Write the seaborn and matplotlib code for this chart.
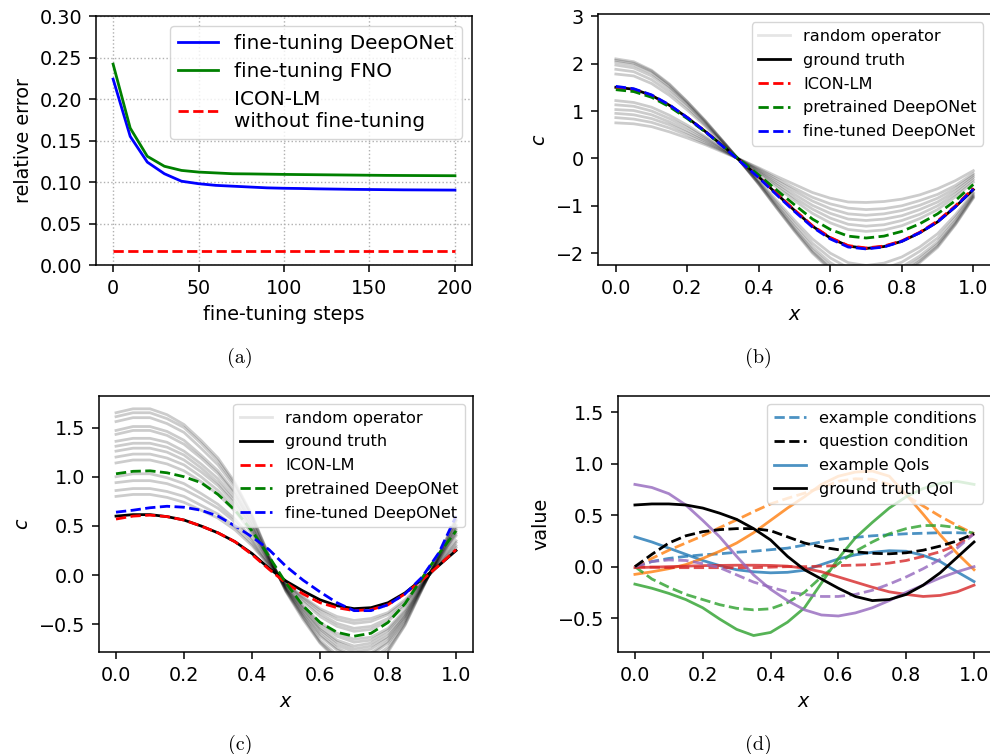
import matplotlib
matplotlib.use("Agg")
import matplotlib.pyplot as plt
from matplotlib.lines import Line2D
import pandas as pd
import seaborn as sns

# ---------------- data ----------------
# (a) relative error vs fine-tuning steps
steps = [0, 10, 20, 30, 40, 50, 60, 70, 80, 90, 100, 110, 120, 130, 140, 150, 160, 170, 180, 190, 200]
err_deeponet = [0.224, 0.155, 0.124, 0.110, 0.101, 0.098, 0.096, 0.095, 0.094, 0.093, 0.0925,
                0.0922, 0.0918, 0.0915, 0.0912, 0.091, 0.0908, 0.0906, 0.0905, 0.0904, 0.0903]
err_fno = [0.242, 0.165, 0.131, 0.119, 0.114, 0.112, 0.111, 0.110, 0.1098, 0.1095, 0.1092,
           0.109, 0.1088, 0.1086, 0.1084, 0.1082, 0.108, 0.1079, 0.1078, 0.1077, 0.1076]
err_icon = [0.0169, 0.0169, 0.0169, 0.0169, 0.0169, 0.0169, 0.0169, 0.0169, 0.0169, 0.0169, 0.0169,
            0.0169, 0.0169, 0.0169, 0.0169, 0.0169, 0.0169, 0.0169, 0.0169, 0.0169, 0.0169]

xs = [0.0, 0.05, 0.1, 0.15, 0.2, 0.25, 0.3, 0.35, 0.4, 0.45, 0.5,
      0.55, 0.6, 0.65, 0.7, 0.75, 0.8, 0.85, 0.9, 0.95, 1.0]

# (b)
truth_b = [1.50, 1.46, 1.33, 1.12, 0.86, 0.57, 0.26, -0.06, -0.39, -0.75, -1.10,
           -1.43, -1.68, -1.85, -1.90, -1.86, -1.75, -1.57, -1.34, -1.02, -0.66]
icon_b = [1.49, 1.45, 1.32, 1.11, 0.86, 0.57, 0.26, -0.06, -0.39, -0.74, -1.09,
          -1.42, -1.67, -1.84, -1.89, -1.85, -1.74, -1.56, -1.32, -1.00, -0.63]
pre_b = [1.45, 1.41, 1.29, 1.09, 0.84, 0.56, 0.26, -0.05, -0.35, -0.67, -0.98,
         -1.28, -1.50, -1.64, -1.68, -1.64, -1.54, -1.38, -1.17, -0.89, -0.55]
fine_b = [1.52, 1.47, 1.34, 1.13, 0.86, 0.57, 0.25, -0.08, -0.41, -0.77, -1.12,
          -1.45, -1.70, -1.87, -1.91, -1.87, -1.75, -1.57, -1.34, -1.02, -0.65]
grey_b = [
    [2.10, 2.04, 1.86, 1.57, 1.20, 0.80, 0.36, -0.08, -0.55, -1.05, -1.54, -2.00, -2.35, -2.59, -2.66, -2.60, -2.45, -2.20, -1.88, -1.40, -0.84],
    [2.07, 2.01, 1.84, 1.55, 1.19, 0.79, 0.36, -0.08, -0.54, -1.04, -1.52, -1.97, -2.32, -2.55, -2.62, -2.57, -2.42, -2.17, -1.85, -1.38, -0.82],
    [2.03, 1.97, 1.80, 1.51, 1.16, 0.77, 0.35, -0.08, -0.53, -1.01, -1.49, -1.93, -2.27, -2.50, -2.57, -2.51, -2.36, -2.12, -1.81, -1.35, -0.80],
    [1.97, 1.91, 1.74, 1.47, 1.13, 0.75, 0.34, -0.08, -0.51, -0.98, -1.44, -1.87, -2.20, -2.42, -2.49, -2.44, -2.29, -2.06, -1.76, -1.31, -0.78],
    [1.88, 1.83, 1.66, 1.40, 1.08, 0.71, 0.33, -0.08, -0.49, -0.94, -1.38, -1.79, -2.10, -2.31, -2.38, -2.33, -2.19, -1.96, -1.68, -1.25, -0.75],
    [1.78, 1.74, 1.58, 1.33, 1.02, 0.68, 0.31, -0.07, -0.46, -0.89, -1.31, -1.70, -2.00, -2.20, -2.26, -2.21, -2.08, -1.87, -1.59, -1.19, -0.72],
    [1.22, 1.18, 1.08, 0.91, 0.70, 0.46, 0.21, -0.05, -0.32, -0.61, -0.89, -1.16, -1.36, -1.50, -1.54, -1.51, -1.42, -1.27, -1.08, -0.81, -0.50],
    [1.13, 1.10, 1.00, 0.84, 0.65, 0.43, 0.20, -0.05, -0.29, -0.56, -0.83, -1.07, -1.26, -1.39, -1.43, -1.40, -1.31, -1.18, -1.00, -0.75, -0.45],
    [1.03, 1.01, 0.92, 0.77, 0.59, 0.39, 0.18, -0.04, -0.27, -0.52, -0.76, -0.99, -1.16, -1.28, -1.31, -1.28, -1.21, -1.08, -0.92, -0.69, -0.40],
    [0.95, 0.92, 0.84, 0.71, 0.54, 0.36, 0.16, -0.04, -0.25, -0.47, -0.69, -0.90, -1.06, -1.17, -1.20, -1.17, -1.10, -0.99, -0.84, -0.63, -0.36],
    [0.86, 0.83, 0.76, 0.64, 0.49, 0.32, 0.15, -0.03, -0.22, -0.43, -0.63, -0.82, -0.96, -1.05, -1.08, -1.06, -1.00, -0.89, -0.76, -0.57, -0.32],
    [0.75, 0.73, 0.67, 0.56, 0.43, 0.29, 0.13, -0.03, -0.20, -0.38, -0.55, -0.72, -0.84, -0.92, -0.93, -0.91, -0.86, -0.77, -0.64, -0.47, -0.26],
]

# (c)
truth_c = [0.60, 0.615, 0.615, 0.595, 0.56, 0.50, 0.43, 0.34, 0.22, 0.07, -0.06,
           -0.16, -0.25, -0.31, -0.34, -0.33, -0.28, -0.18, -0.04, 0.10, 0.25]
icon_c = [0.57, 0.60, 0.61, 0.595, 0.56, 0.50, 0.43, 0.34, 0.21, 0.06, -0.08,
          -0.19, -0.28, -0.33, -0.36, -0.35, -0.30, -0.19, -0.05, 0.10, 0.26]
pre_c = [1.03, 1.055, 1.06, 1.04, 1.00, 0.94, 0.82, 0.66, 0.45, 0.19, -0.08,
         -0.31, -0.48, -0.58, -0.62, -0.59, -0.48, -0.29, -0.03, 0.22, 0.45]
fine_c = [0.64, 0.66, 0.685, 0.70, 0.69, 0.66, 0.60, 0.50, 0.39, 0.26, 0.09,
          -0.05, -0.17, -0.28, -0.36, -0.36, -0.30, -0.19, -0.02, 0.23, 0.60]
grey_c = [
    [1.65, 1.69, 1.69, 1.63, 1.53, 1.37, 1.19, 0.94, 0.61, 0.20, -0.17, -0.45, -0.69, -0.86, -0.94, -0.91, -0.78, -0.51, -0.15, 0.21, 0.58],
    [1.61, 1.65, 1.65, 1.59, 1.50, 1.34, 1.16, 0.92, 0.60, 0.19, -0.16, -0.43, -0.68, -0.84, -0.92, -0.89, -0.76, -0.50, -0.14, 0.21, 0.56],
    [1.56, 1.60, 1.60, 1.54, 1.45, 1.29, 1.12, 0.89, 0.58, 0.19, -0.16, -0.42, -0.66, -0.81, -0.89, -0.86, -0.73, -0.48, -0.14, 0.20, 0.55],
    [1.47, 1.51, 1.51, 1.46, 1.37, 1.22, 1.06, 0.84, 0.54, 0.18, -0.15, -0.40, -0.62, -0.76, -0.84, -0.81, -0.69, -0.46, -0.13, 0.19, 0.51],
    [1.43, 1.47, 1.47, 1.42, 1.33, 1.19, 1.03, 0.82, 0.53, 0.17, -0.14, -0.39, -0.60, -0.74, -0.82, -0.79, -0.67, -0.44, -0.13, 0.19, 0.50],
    [1.36, 1.39, 1.39, 1.35, 1.26, 1.13, 0.98, 0.78, 0.50, 0.16, -0.14, -0.37, -0.57, -0.71, -0.78, -0.75, -0.64, -0.42, -0.12, 0.18, 0.48],
    [1.31, 1.34, 1.34, 1.30, 1.22, 1.09, 0.94, 0.75, 0.48, 0.16, -0.13, -0.35, -0.55, -0.68, -0.75, -0.72, -0.62, -0.41, -0.12, 0.17, 0.46],
    [1.26, 1.29, 1.29, 1.25, 1.17, 1.05, 0.91, 0.72, 0.47, 0.15, -0.13, -0.34, -0.53, -0.66, -0.72, -0.69, -0.59, -0.39, -0.11, 0.16, 0.44],
    [1.20, 1.23, 1.23, 1.19, 1.12, 1.00, 0.86, 0.68, 0.44, 0.14, -0.12, -0.32, -0.50, -0.62, -0.68, -0.66, -0.56, -0.37, -0.11, 0.16, 0.42],
    [1.14, 1.17, 1.17, 1.13, 1.06, 0.95, 0.82, 0.65, 0.42, 0.14, -0.11, -0.31, -0.48, -0.59, -0.65, -0.63, -0.54, -0.35, -0.10, 0.15, 0.40],
    [1.00, 1.03, 1.03, 0.99, 0.93, 0.83, 0.72, 0.57, 0.37, 0.12, -0.10, -0.27, -0.42, -0.52, -0.57, -0.55, -0.47, -0.31, -0.09, 0.13, 0.35],
    [0.94, 0.96, 0.96, 0.93, 0.87, 0.78, 0.68, 0.54, 0.35, 0.11, -0.09, -0.25, -0.39, -0.49, -0.54, -0.52, -0.44, -0.29, -0.08, 0.12, 0.33],
    [0.86, 0.88, 0.88, 0.85, 0.80, 0.71, 0.62, 0.49, 0.32, 0.10, -0.09, -0.23, -0.36, -0.45, -0.49, -0.47, -0.40, -0.27, -0.08, 0.11, 0.30],
    [0.80, 0.82, 0.82, 0.79, 0.74, 0.66, 0.58, 0.46, 0.30, 0.10, -0.08, -0.22, -0.34, -0.42, -0.46, -0.44, -0.38, -0.25, -0.07, 0.10, 0.28],
]

# (d) five example condition / QoI pairs plus the question
ex_colors = ["#1f77b4", "#ff7f0e", "#2ca02c", "#d62728", "#9467bd"]
ex_conditions = [
    [0.0, 0.05, 0.08, 0.10, 0.115, 0.125, 0.14, 0.15, 0.165, 0.18, 0.21, 0.24, 0.265, 0.285, 0.30, 0.31, 0.32, 0.325, 0.33, 0.33, 0.325],
    [0.0, 0.08, 0.16, 0.23, 0.30, 0.38, 0.455, 0.535, 0.61, 0.665, 0.715, 0.77, 0.83, 0.855, 0.85, 0.80, 0.69, 0.59, 0.49, 0.40, 0.32],
    [0.0, -0.12, -0.20, -0.27, -0.32, -0.37, -0.405, -0.42, -0.41, -0.35, -0.25, -0.10, 0.03, 0.15, 0.24, 0.32, 0.37, 0.40, 0.40, 0.38, 0.32],
    [0.0, -0.005, -0.01, -0.01, -0.01, -0.01, -0.01, -0.01, -0.005, 0.0, 0.0, 0.005, 0.01, 0.015, 0.02, 0.035, 0.06, 0.10, 0.145, 0.21, 0.32],
    [0.0, 0.05, 0.065, 0.06, 0.03, -0.01, -0.08, -0.15, -0.20, -0.245, -0.27, -0.29, -0.29, -0.27, -0.23, -0.17, -0.10, -0.02, 0.07, 0.18, 0.32],
]
ex_qois = [
    [0.29, 0.24, 0.18, 0.12, 0.06, 0.01, -0.03, -0.05, -0.06, -0.055, -0.035, 0.02, 0.075, 0.115, 0.14, 0.155, 0.15, 0.11, 0.05, -0.05, -0.145],
    [-0.075, -0.05, -0.02, 0.02, 0.08, 0.15, 0.23, 0.33, 0.45, 0.57, 0.68, 0.80, 0.88, 0.92, 0.93, 0.88, 0.70, 0.51, 0.31, 0.13, -0.03],
    [-0.17, -0.21, -0.26, -0.32, -0.40, -0.51, -0.61, -0.67, -0.64, -0.54, -0.40, -0.16, 0.08, 0.28, 0.43, 0.57, 0.68, 0.76, 0.81, 0.83, 0.80],
    [-0.01, -0.005, 0.0, 0.005, 0.01, 0.012, 0.014, 0.014, 0.012, 0.005, -0.015, -0.05, -0.10, -0.15, -0.20, -0.245, -0.27, -0.29, -0.28, -0.245, -0.18],
    [0.80, 0.77, 0.71, 0.60, 0.45, 0.29, 0.10, -0.08, -0.22, -0.33, -0.42, -0.47, -0.48, -0.45, -0.40, -0.33, -0.25, -0.18, -0.11, -0.05, 0.0],
]
question_condition = [0.0, 0.12, 0.23, 0.30, 0.34, 0.36, 0.37, 0.37, 0.35, 0.29, 0.23,
                      0.19, 0.165, 0.145, 0.13, 0.125, 0.135, 0.16, 0.20, 0.25, 0.32]
truth_qoi = [0.60, 0.61, 0.61, 0.60, 0.57, 0.52, 0.46, 0.37, 0.26, 0.10, -0.03,
             -0.12, -0.21, -0.29, -0.33, -0.32, -0.27, -0.18, -0.06, 0.09, 0.24]

# ---------------- style ----------------
plt.rcParams.update({
    "font.family": ["DejaVu Sans"],
    "font.size": 13.8,
    "axes.labelsize": 13.8,
    "xtick.labelsize": 13.8,
    "ytick.labelsize": 13.8,
    "axes.linewidth": 1.1,
    "xtick.major.size": 5.0,
    "ytick.major.size": 5.0,
    "xtick.major.width": 1.1,
    "ytick.major.width": 1.1,
    "xtick.major.pad": 5.0,
    "ytick.major.pad": 5.0,
    "axes.labelpad": 5.0,
    "lines.linewidth": 2.0,
})

LW = 2.0
fig = plt.figure(figsize=(9.9, 7.54), dpi=100)
axA = fig.add_axes([0.0970, 0.6485, 0.3798, 0.3302])
axB = fig.add_axes([0.6040, 0.6485, 0.3972, 0.3325])
axC = fig.add_axes([0.1000, 0.1353, 0.3778, 0.3395])
axD = fig.add_axes([0.6242, 0.1353, 0.3768, 0.3395])


def long_frame(rows):
    recs = []
    for i, row in enumerate(rows):
        for xv, yv in zip(xs, row):
            recs.append({"curve": i, "x": xv, "value": yv})
    return pd.DataFrame(recs)


# ---------------- (a) ----------------
sns.lineplot(x=steps, y=err_deeponet, color="blue", linewidth=LW, ax=axA)
sns.lineplot(x=steps, y=err_fno, color="green", linewidth=LW, ax=axA)
sns.lineplot(x=steps, y=err_icon, color="red", linewidth=LW, linestyle="--", ax=axA)
axA.set_ylim(0, 0.30)
axA.set_yticks([0.0, 0.05, 0.10, 0.15, 0.20, 0.25, 0.30])
axA.set_xticks([0, 50, 100, 150, 200])
axA.grid(True, linestyle=":", color="#b0b0b0", linewidth=1.0)
axA.set_xlabel("fine-tuning steps")
axA.set_ylabel("relative error")
hA = [Line2D([], [], color="blue", lw=LW), Line2D([], [], color="green", lw=LW),
      Line2D([], [], color="red", lw=LW, ls="--")]
axA.legend(hA, ["fine-tuning DeepONet", "fine-tuning FNO", "ICON-LM\nwithout fine-tuning"],
           loc="upper right", fontsize=14.4, labelspacing=0.45)

LEG_FS = 11.6
LEG_LS = 0.55


# ---------------- (b) & (c) ----------------
def operator_panel(ax, grey, truth, icon, pre, fine, ylim):
    sns.lineplot(data=long_frame(grey), x="x", y="value", units="curve", estimator=None,
                 color="black", alpha=0.2, linewidth=LW, legend=False, ax=ax)
    sns.lineplot(x=xs, y=truth, color="black", linewidth=LW, ax=ax)
    sns.lineplot(x=xs, y=icon, color="red", linewidth=LW, linestyle="--", ax=ax)
    sns.lineplot(x=xs, y=pre, color="green", linewidth=LW, linestyle="--", ax=ax)
    sns.lineplot(x=xs, y=fine, color="blue", linewidth=LW, linestyle="--", ax=ax)
    ax.set_ylim(*ylim)
    ax.set_xlim(-0.05, 1.05)
    ax.set_xticks([0.0, 0.2, 0.4, 0.6, 0.8, 1.0])
    ax.set_xlabel("$x$")
    ax.set_ylabel("$c$")
    h = [Line2D([], [], color="black", alpha=0.1, lw=LW),
         Line2D([], [], color="black", lw=LW),
         Line2D([], [], color="red", lw=LW, ls="--"),
         Line2D([], [], color="green", lw=LW, ls="--"),
         Line2D([], [], color="blue", lw=LW, ls="--")]
    ax.legend(h, ["random operator", "ground truth", "ICON-LM", "pretrained DeepONet",
                  "fine-tuned DeepONet"], loc="upper right", fontsize=LEG_FS, labelspacing=LEG_LS)


operator_panel(axB, grey_b, truth_b, icon_b, pre_b, fine_b, (-2.25, 3.04))
operator_panel(axC, grey_c, truth_c, icon_c, pre_c, fine_c, (-0.78, 1.82))

# ---------------- (d) ----------------
for col, cond, qoi in zip(ex_colors, ex_conditions, ex_qois):
    sns.lineplot(x=xs, y=cond, color=col, alpha=0.8, linewidth=LW, linestyle="--", ax=axD)
    sns.lineplot(x=xs, y=qoi, color=col, alpha=0.8, linewidth=LW, ax=axD)
sns.lineplot(x=xs, y=question_condition, color="black", linewidth=LW, linestyle="--", ax=axD)
sns.lineplot(x=xs, y=truth_qoi, color="black", linewidth=LW, ax=axD)
axD.set_ylim(-0.83, 1.66)
axD.set_xlim(-0.05, 1.05)
axD.set_xticks([0.0, 0.2, 0.4, 0.6, 0.8, 1.0])
axD.set_xlabel("$x$")
axD.set_ylabel("value")
hD = [Line2D([], [], color=ex_colors[0], alpha=0.8, lw=LW, ls="--"),
      Line2D([], [], color="black", lw=LW, ls="--"),
      Line2D([], [], color=ex_colors[0], alpha=0.8, lw=LW),
      Line2D([], [], color="black", lw=LW)]
axD.legend(hD, ["example conditions", "question condition", "example QoIs", "ground truth QoI"],
           loc="upper right", fontsize=LEG_FS, labelspacing=LEG_LS)

# ---------------- captions ----------------
for (cx, cy, lab) in [(0.2424, 0.5248, "(a)"), (0.7657, 0.5248, "(b)"),
                      (0.2424, 0.0119, "(c)"), (0.7657, 0.0119, "(d)")]:
    fig.text(cx, cy, lab, fontfamily="cmr10", fontsize=14.4, ha="center", va="center")

fig.savefig("out.png", dpi=100)
